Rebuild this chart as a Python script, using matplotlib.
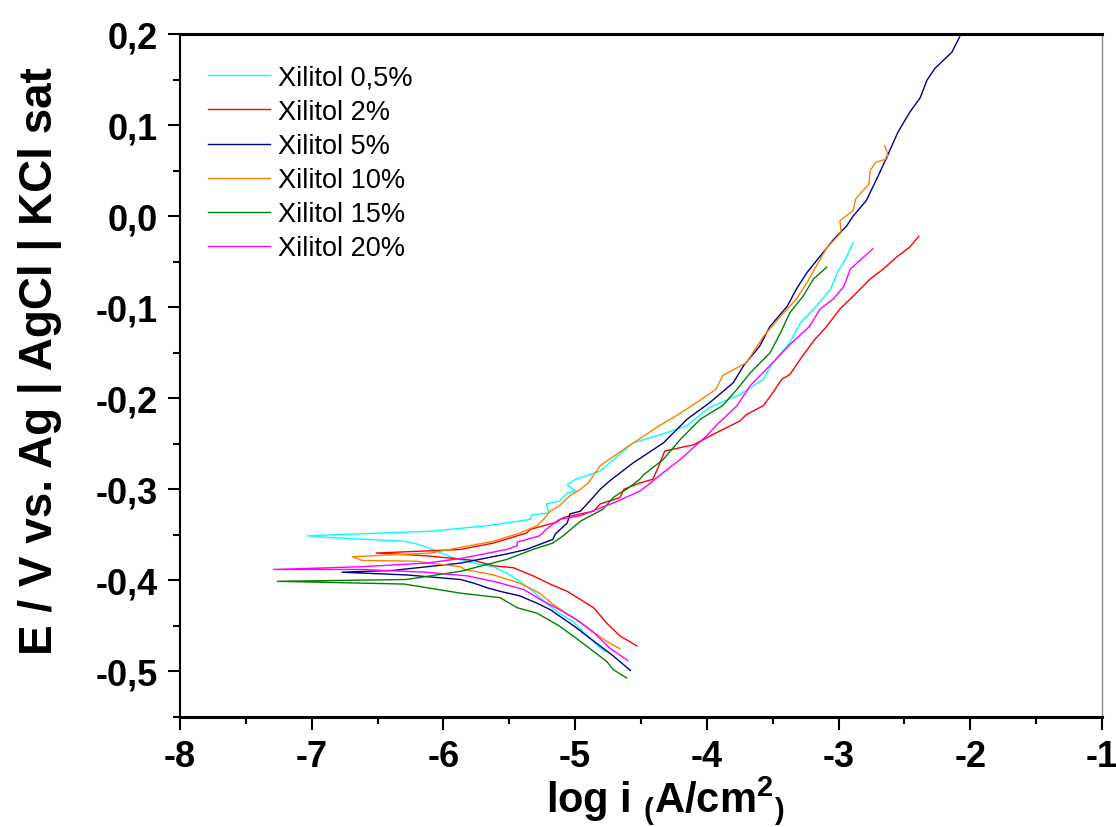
import numpy as np
import matplotlib
matplotlib.use("Agg")
import matplotlib.pyplot as plt
from matplotlib.ticker import MultipleLocator, FuncFormatter

plt.rcParams['font.family'] = ['Liberation Sans', 'DejaVu Sans']
plt.rcParams['mathtext.fontset'] = 'custom'
plt.rcParams['mathtext.rm'] = 'Liberation Sans:bold'
plt.rcParams['mathtext.bf'] = 'Liberation Sans:bold'
plt.rcParams['mathtext.default'] = 'bf'

labels = ['Xilitol 0,5%', 'Xilitol 2%', 'Xilitol 5%', 'Xilitol 10%', 'Xilitol 15%', 'Xilitol 20%']
colors = ['#00FFFF', '#FF0000', '#00008B', '#FF8000', '#008000', '#FF00FF']

# log i (A/cm2) and E (V), traced from cathodic end -> Ecorr -> anodic end
logi_05 = [-4.77, -4.81, -4.91, -5.01, -5.12, -5.22, -5.32, -5.42, -5.52, -5.62, -5.77, -5.93, -6.10, -6.20,
           -6.30, -6.56, -6.86, -7.03,
           -6.10, -5.67, -5.34, -5.33, -5.20, -5.22, -5.12, -5.06, -5.00, -5.06, -5.00, -4.81, -4.56, -4.31,
           -4.15, -3.98, -3.75, -3.57, -3.50, -3.37, -3.29, -3.17, -3.06, -3.01, -2.94, -2.89]
E_05 = [-0.478, -0.474, -0.461, -0.446, -0.436, -0.425, -0.412, -0.401, -0.392, -0.385, -0.381, -0.375, -0.365,
        -0.360, -0.357, -0.355, -0.353, -0.351,
        -0.346, -0.340, -0.333, -0.328, -0.326, -0.316, -0.313, -0.304, -0.302, -0.295, -0.289, -0.280, -0.249,
        -0.238, -0.230, -0.210, -0.196, -0.179, -0.161, -0.139, -0.117, -0.099, -0.080, -0.062, -0.045, -0.029]

logi_2 = [-4.53, -4.66, -4.76, -4.86, -4.96, -5.06, -5.19, -5.32, -5.47, -5.62, -5.77, -6.13, -6.51,
          -5.87, -5.62, -5.37, -5.34, -5.14, -5.09, -4.86, -4.81, -4.66, -4.63, -4.51, -4.41, -4.37, -4.32,
          -4.10, -3.93, -3.75, -3.70, -3.57, -3.50, -3.43, -3.37, -3.29, -3.19, -3.09, -2.99, -2.89, -2.76,
          -2.66, -2.56, -2.46, -2.39]
E_2 = [-0.472, -0.461, -0.447, -0.430, -0.421, -0.412, -0.404, -0.395, -0.386, -0.384, -0.378, -0.373, -0.370,
       -0.366, -0.359, -0.348, -0.344, -0.336, -0.331, -0.324, -0.316, -0.309, -0.300, -0.293, -0.289, -0.276,
       -0.258, -0.251, -0.238, -0.225, -0.218, -0.208, -0.194, -0.179, -0.174, -0.157, -0.137, -0.121, -0.102,
       -0.088, -0.069, -0.058, -0.045, -0.034, -0.022]

logi_5 = [-4.58, -4.71, -4.81, -4.91, -5.01, -5.12, -5.19, -5.29, -5.42, -5.57, -5.67, -5.77, -5.87, -6.28, -6.77,
          -6.38, -5.87, -5.52, -5.37, -5.17, -5.15, -5.06, -5.04, -4.96, -4.89, -4.81, -4.74, -4.56, -4.33,
          -4.15, -3.98, -3.80, -3.72, -3.60, -3.52, -3.39, -3.32, -3.24, -3.14, -3.04, -2.94, -2.89, -2.79,
          -2.70, -2.63, -2.55, -2.46, -2.38, -2.33, -2.27, -2.14, -2.08]
E_5 = [-0.499, -0.483, -0.472, -0.461, -0.450, -0.439, -0.432, -0.425, -0.417, -0.412, -0.408, -0.403, -0.399,
       -0.394, -0.391,
       -0.389, -0.381, -0.371, -0.366, -0.355, -0.349, -0.337, -0.327, -0.324, -0.313, -0.300, -0.291, -0.271,
       -0.249, -0.223, -0.205, -0.183, -0.164, -0.143, -0.121, -0.099, -0.080, -0.062, -0.044, -0.026, -0.011,
       0.000, 0.017, 0.044, 0.066, 0.092, 0.114, 0.130, 0.149, 0.162, 0.180, 0.197]

logi_10 = [-4.66, -4.76, -4.86, -4.96, -5.06, -5.17, -5.27, -5.42, -5.62, -5.84, -5.87, -6.10, -6.20, -6.62, -6.69,
           -6.10, -5.62, -5.42, -5.29, -5.24, -5.19, -5.12, -5.04, -4.96, -4.90, -4.81, -4.61, -4.36, -4.23,
           -4.08, -3.93, -3.88, -3.70, -3.57, -3.44, -3.32, -3.24, -3.17, -3.09, -2.98, -2.99, -2.89, -2.87,
           -2.77, -2.76, -2.72, -2.63, -2.63, -2.65]
E_10 = [-0.475, -0.467, -0.457, -0.446, -0.437, -0.426, -0.414, -0.403, -0.394, -0.388, -0.385, -0.381, -0.379,
        -0.378, -0.374,
        -0.370, -0.357, -0.348, -0.340, -0.333, -0.324, -0.318, -0.307, -0.300, -0.293, -0.274, -0.254, -0.230,
        -0.219, -0.205, -0.190, -0.175, -0.161, -0.132, -0.110, -0.091, -0.073, -0.055, -0.035, -0.018, -0.005,
        0.006, 0.019, 0.035, 0.050, 0.059, 0.063, 0.070, 0.077]

logi_15 = [-4.61, -4.71, -4.76, -4.86, -4.96, -5.12, -5.29, -5.44, -5.57, -5.87, -6.30, -7.26,
           -6.28, -5.87, -5.52, -5.32, -5.17, -5.09, -4.96, -4.79, -4.71, -4.66, -4.61, -4.51, -4.48, -4.33,
           -4.20, -4.05, -3.88, -3.77, -3.67, -3.52, -3.44, -3.37, -3.27, -3.19, -3.09]
E_15 = [-0.507, -0.498, -0.489, -0.478, -0.467, -0.450, -0.436, -0.430, -0.419, -0.414, -0.404, -0.401,
        -0.399, -0.390, -0.377, -0.366, -0.359, -0.351, -0.335, -0.322, -0.309, -0.304, -0.300, -0.289, -0.284,
        -0.267, -0.245, -0.223, -0.208, -0.190, -0.172, -0.150, -0.128, -0.106, -0.088, -0.069, -0.056]

logi_20 = [-4.60, -4.74, -4.86, -4.99, -5.12, -5.24, -5.39, -5.62, -5.82, -6.13, -6.63, -7.29,
           -6.63, -6.13, -5.87, -5.52, -5.44, -5.44, -5.27, -5.22, -5.12, -4.96, -4.71, -4.51, -4.41, -4.38,
           -4.20, -4.00, -3.93, -3.77, -3.67, -3.50, -3.37, -3.22, -3.14, -3.04, -2.96, -2.91, -2.81, -2.74]
E_20 = [-0.488, -0.474, -0.457, -0.443, -0.432, -0.423, -0.410, -0.401, -0.395, -0.391, -0.388, -0.388,
        -0.385, -0.381, -0.376, -0.366, -0.362, -0.358, -0.351, -0.344, -0.333, -0.329, -0.315, -0.302, -0.291,
        -0.287, -0.267, -0.241, -0.230, -0.208, -0.186, -0.161, -0.141, -0.121, -0.102, -0.091, -0.077, -0.058,
        -0.045, -0.036]

series = [(logi_05, E_05), (logi_2, E_2), (logi_5, E_5), (logi_10, E_10), (logi_15, E_15), (logi_20, E_20)]

fig = plt.figure(figsize=(11.16, 8.28), dpi=100)
ax = fig.add_axes([180 / 1116, 1 - 718 / 828, 922 / 1116, 683 / 828])

for (x, y), c, lab in zip(series, colors, labels):
    ax.plot(x, y, color=c, lw=1.0, label=lab)

ax.set_xlim(-8, -1)
ax.set_ylim(-0.55, 0.2)
ax.xaxis.set_major_locator(MultipleLocator(1))
ax.xaxis.set_minor_locator(MultipleLocator(0.5))
ax.yaxis.set_major_locator(MultipleLocator(0.1))
ax.yaxis.set_minor_locator(MultipleLocator(0.05))
ax.xaxis.set_major_formatter(FuncFormatter(lambda v, p: f"{v:.0f}"))
ax.yaxis.set_major_formatter(FuncFormatter(lambda v, p: f"{v:.1f}".replace('.', ',').replace('-0,0', '0,0')))

ax.tick_params(which='both', direction='out', top=False, right=False, width=1.5)
ax.tick_params(which='major', length=9, labelsize=26, pad=7)
ax.tick_params(which='minor', length=5)
for t in ax.get_xticklabels() + ax.get_yticklabels():
    t.set_fontweight('bold')

ax.spines['bottom'].set_linewidth(2.2)
ax.spines['top'].set_linewidth(2.2)
ax.spines['left'].set_linewidth(1.5)
ax.spines['right'].set_linewidth(1.0)
ax.spines['right'].set_color('#888888')

ax.set_ylabel('E / V vs. Ag | AgCl | KCl sat', fontsize=33, fontweight='bold')
ax.yaxis.set_label_coords(-0.128, 0.523)
ax.set_xlabel(r'log i $_($A/cm$^2$$_)$', fontsize=30, fontweight='bold')
ax.xaxis.set_label_coords(0.526, -0.082)

ax.legend(loc='upper left', bbox_to_anchor=(0.030, 0.955), frameon=False, fontsize=19.5,
          borderpad=0, borderaxespad=0, handlelength=2.3, handletextpad=0.3, labelspacing=0.3)

fig.savefig('out.png', dpi=100)
